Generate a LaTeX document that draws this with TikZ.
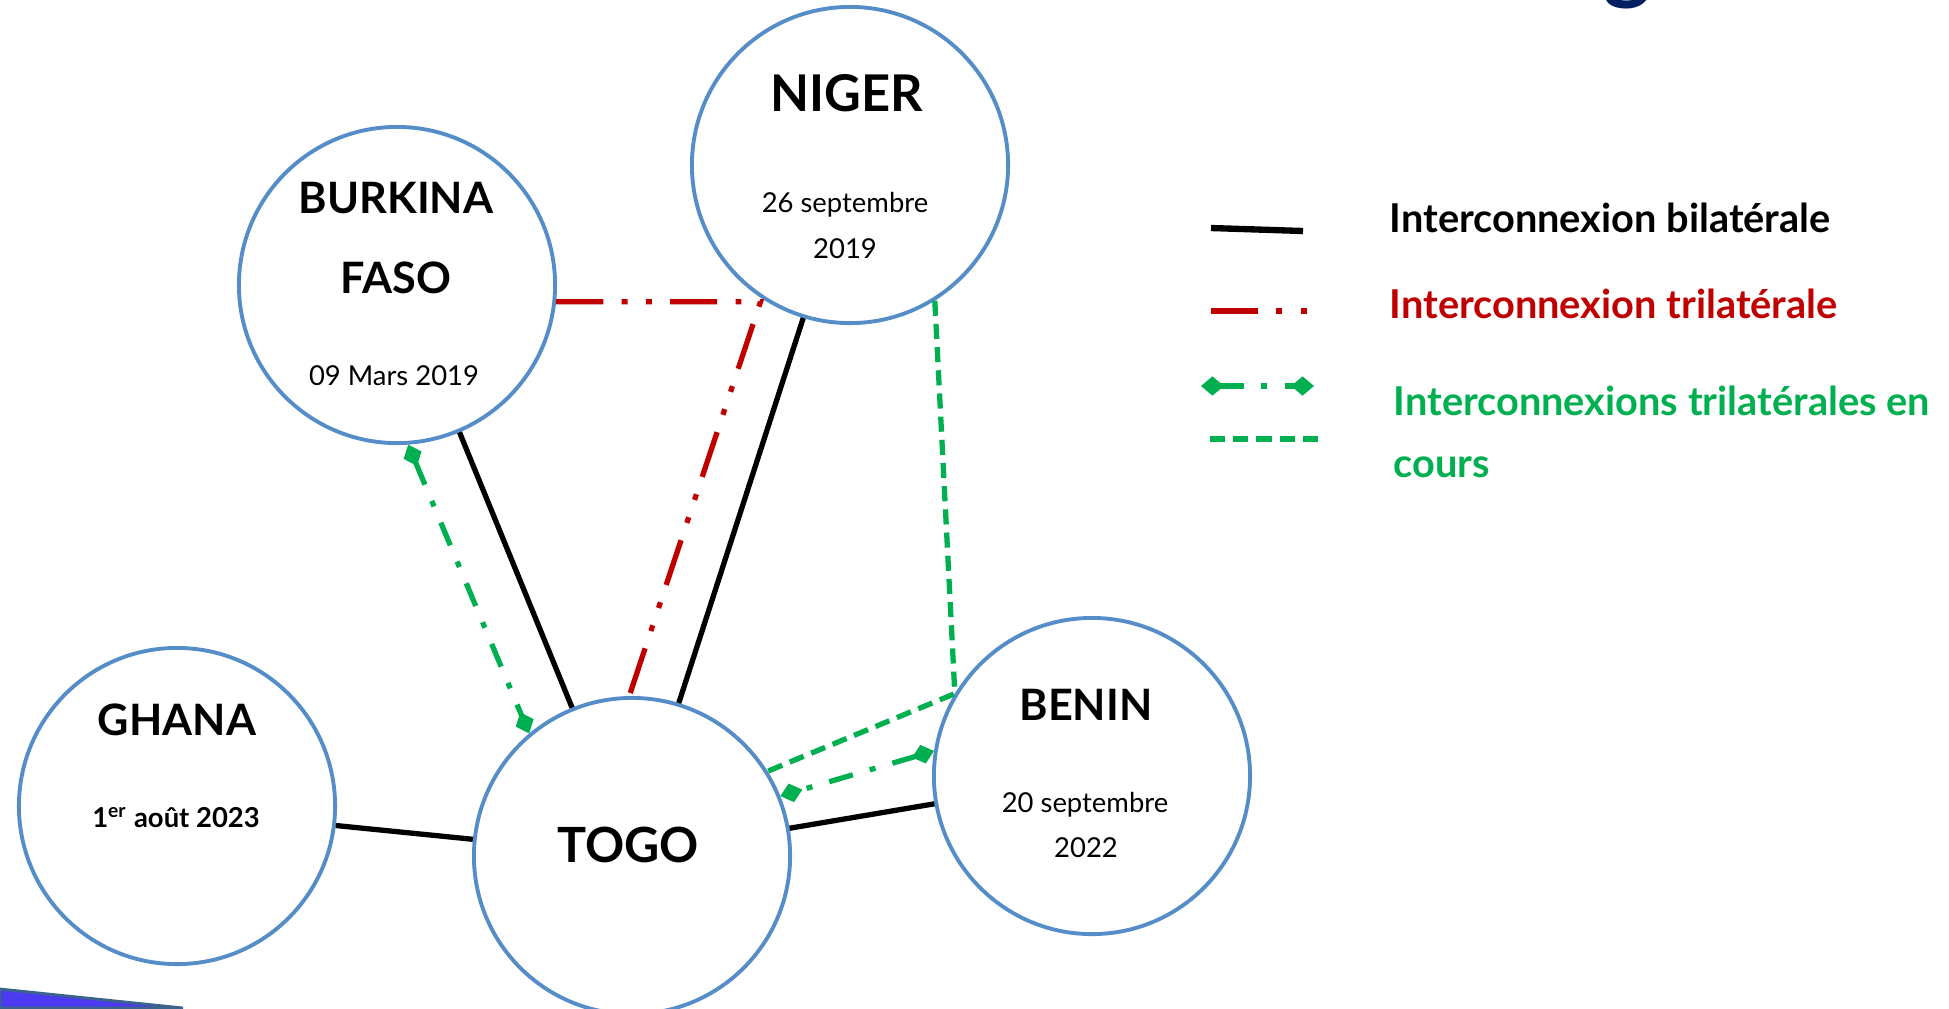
\documentclass[tikz,border=0pt]{standalone}
\usepackage{fontspec}
\setmainfont{Lato}
\usetikzlibrary{arrows.meta}
\definecolor{ringblue}{RGB}{84,141,200}
\definecolor{trired}{RGB}{192,0,0}
\definecolor{trigreen}{RGB}{0,176,80}
\definecolor{titlenavy}{RGB}{0,32,96}
\definecolor{barblue}{RGB}{76,58,240}
\tikzset{
  country/.style={circle,draw=ringblue,line width=1.1pt,minimum size=3.16cm,inner sep=0pt},
  cname/.style={font=\bfseries\fontsize{12.3}{14}\selectfont,anchor=base,inner sep=0pt},
  bigname/.style={font=\bfseries\fontsize{14.4}{16}\selectfont,anchor=base,inner sep=0pt},
  cdate/.style={font=\fontsize{7.8}{9}\selectfont,anchor=base,inner sep=0pt},
  keytext/.style={font=\bfseries\fontsize{11.3}{14}\selectfont,anchor=base west,inner sep=0pt},
  bilat/.style={line width=1.5pt},
  trilat/.style={trired,line width=1.5pt,dash pattern=on 13.4pt off 5.2pt on 1.7pt off 5.2pt on 1.7pt off 5.2pt},
  plan/.style={trigreen,line width=1.5pt,dash pattern=on 7pt off 5pt on 1.7pt off 5pt,
    {Diamond[length=6.5pt,width=5.5pt]}-{Diamond[length=6.5pt,width=5.5pt]}},
  encours/.style={trigreen,line width=1.5pt,dash pattern=on 4.3pt off 2.3pt}
}
\begin{document}
\begin{tikzpicture}[x=0.01cm,y=-0.01cm]
  \useasboundingbox (0,0) rectangle (1949,1008);
  \clip (0,0) rectangle (1949,1008);
  \fill[white] (0,0) rectangle (1949,1008);

  \node[country] (niger) at (850,165) {};
  \node[country] (burkina) at (397,285) {};
  \node[country] (ghana) at (177,806) {};
  \node[country] (togo) at (632,856) {};
  \node[country] (benin) at (1092,776) {};

  \node[bigname] (nigername) at (847,111) {NIGER};
  \node[cdate] (nigerdate) at (845,212) {26 septembre};
  \node[cdate] (nigeryear) at (845,258) {2019};
  \node[cname] (burkinaname) at (396,213) {BURKINA};
  \node[cname] (fasoname) at (396,293) {FASO};
  \node[cdate] (burkinadate) at (394,385) {09 Mars 2019};
  \node[cname] (ghananame) at (177,735) {GHANA};
  \node[cdate,font=\bfseries\fontsize{7.8}{9}\selectfont] (ghanadate) at (176,827) {1\textsuperscript{er} août 2023};
  \node[bigname,font=\bfseries\fontsize{13.8}{16}\selectfont] (togoname) at (628,862) {TOGO};
  \node[cname] (beninname) at (1086,720) {BENIN};
  \node[cdate] (benindate) at (1085,812) {20 septembre};
  \node[cdate] (beninyear) at (1086,857) {2022};

  \draw[bilat] (burkina.-67) -- (togo.112);
  \draw[bilat] (niger.-107) -- (togo.73);
  \draw[bilat] (ghana.-7) -- (togo.174);
  \draw[bilat] (togo.10) -- (benin.190);
  \draw[trilat] (burkina.-6) -- (burkina.-6 -| niger.-124) -- (togo.91);
  \draw[encours] (niger.-58) -- (benin.149) -- (togo.32);
  \draw[plan] (burkina.-86) -- (togo.130);
  \draw[plan] (benin.171) -- (togo.22);

  \coordinate (keybia) at (1211,228);
  \coordinate (keybib) at (1303,231);
  \coordinate (keytria) at (1211,311);
  \coordinate (keytrib) at (1312,311);
  \coordinate (keyplana) at (1201,386);
  \coordinate (keyplanb) at (1314,386);
  \coordinate (keycoursa) at (1210,439);
  \coordinate (keycoursb) at (1325,439);
  \draw[bilat,line width=1.8pt] (keybia) -- (keybib);
  \draw[trilat] (keytria) -- (keytrib);
  \draw[plan,line width=1.7pt] (keyplana) -- (keyplanb);
  \draw[encours,line width=1.8pt] (keycoursa) -- (keycoursb);
  \node[keytext] (keybi) at (1389,232) {Interconnexion bilatérale};
  \node[keytext,text=trired] (keytri) at (1389,318) {Interconnexion trilatérale};
  \node[keytext,text=trigreen] (keyplan) at (1393,415) {Interconnexions trilatérales en};
  \node[keytext,text=trigreen] (keycours) at (1393,477) {cours};

  \node[font=\bfseries\fontsize{26}{30}\selectfont,text=titlenavy,anchor=base,inner sep=0pt] (titleg) at (1628,-8) {g};
  \fill[barblue,draw=ringblue!70!black,line width=0.8pt] (0,989) -- (183,1008) -- (0,1008) -- cycle;
\end{tikzpicture}
\end{document}
